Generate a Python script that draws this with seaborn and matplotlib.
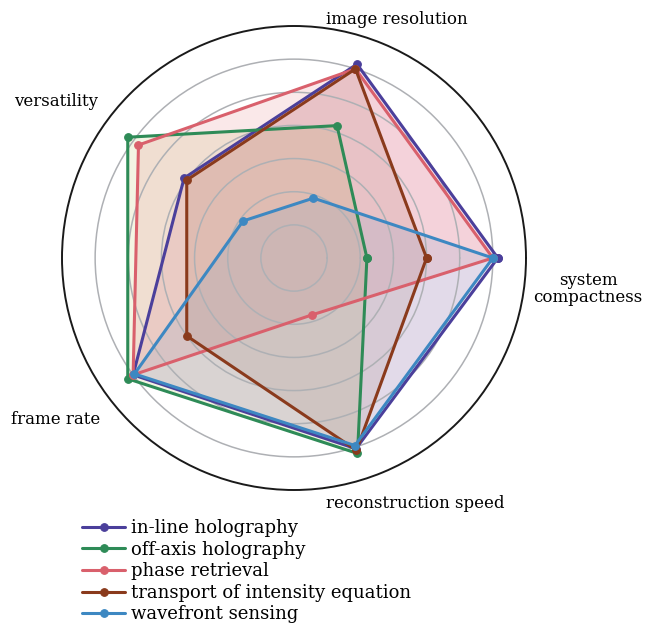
import numpy as np
import seaborn as sns
import matplotlib.pyplot as plt

# axes, counter-clockwise from the east
axes_names = ["system compactness", "image resolution", "versatility",
              "frame rate", "reconstruction speed"]
methods = ["in-line holography", "off-axis holography", "phase retrieval",
           "transport of intensity equation", "wavefront sensing"]

inline_vals = [6.15, 6.15, 4.1, 6.0, 6.05]
offaxis_vals = [2.2, 4.2, 6.2, 6.2, 6.2]
phase_vals = [6.0, 6.0, 5.8, 6.0, 1.8]
tie_vals = [4.0, 6.0, 4.0, 4.0, 6.1]
wavefront_vals = [6.0, 1.9, 1.9, 5.95, 5.95]

line_colors = ["#4b3f9b", "#2e8b57", "#d9606c", "#8a3a1c", "#3d88c2"]
fill_colors = ["#c8407e", "#a6ad2a", "#e0505a", "#9a5a40", "#5a8fc8"]

sns.set_style("white")
plt.rcParams["font.family"] = ["DejaVu Serif"]
plt.rcParams["text.color"] = "black"

W, H = 648, 623
fig = plt.figure(figsize=(W / 100, H / 100), dpi=100)

cx, cy, R = 294, 258, 232
ax = fig.add_axes([(cx - R) / W, (H - cy - R) / H, 2 * R / W, 2 * R / H],
                  projection="polar")

theta = np.linspace(0, 2 * np.pi, len(axes_names), endpoint=False)
theta_c = np.append(theta, theta[0])

series = [inline_vals, offaxis_vals, phase_vals, tie_vals, wavefront_vals]
for name, vals, col, fcol in zip(methods, series, line_colors, fill_colors):
    r_c = np.append(vals, vals[0])
    ax.fill(theta_c, r_c, color=fcol, alpha=0.13, linewidth=0, zorder=1)
    sns.lineplot(x=theta_c, y=r_c, sort=False, estimator=None, ax=ax,
                 color=col, linewidth=2.2, marker="o", markersize=5.5,
                 markeredgecolor=col, markeredgewidth=0.8, label=name, zorder=3)

ax.set_axisbelow("line")
ax.set_ylim(0, 7)
ax.set_yticks([1, 2, 3, 4, 5, 6])
ax.set_yticklabels([])
ax.set_xticks([])
ax.xaxis.grid(False)
ax.yaxis.grid(True, color="#aeb0b4", linewidth=1.1)
ax.spines["polar"].set_color("#1a1a1a")
ax.spines["polar"].set_linewidth(1.4)
ax.set_xlabel("")
ax.set_ylabel("")

# axis titles
fs = 12
fig.text(397 / W, 1 - 19 / H, axes_names[1], ha="center", va="center", fontsize=fs)
fig.text(588 / W, 1 - 289 / H, "system\ncompactness", ha="center", va="center",
         fontsize=fs, linespacing=0.95)
fig.text(415 / W, 1 - 503 / H, axes_names[4], ha="center", va="center", fontsize=fs)
fig.text(56 / W, 1 - 420 / H, axes_names[3], ha="center", va="center", fontsize=fs)
fig.text(56 / W, 1 - 102 / H, axes_names[2], ha="center", va="center", fontsize=fs)

handles, labels = ax.get_legend_handles_labels()
if ax.get_legend() is not None:
    ax.get_legend().remove()
fig.legend(handles, labels, loc="upper left", bbox_to_anchor=(82 / W, 1 - 519 / H),
           frameon=False, fontsize=13, handlelength=2.4, handletextpad=0.3,
           labelspacing=0.2, borderpad=0, borderaxespad=0)

fig.savefig("out.png", dpi=100)
